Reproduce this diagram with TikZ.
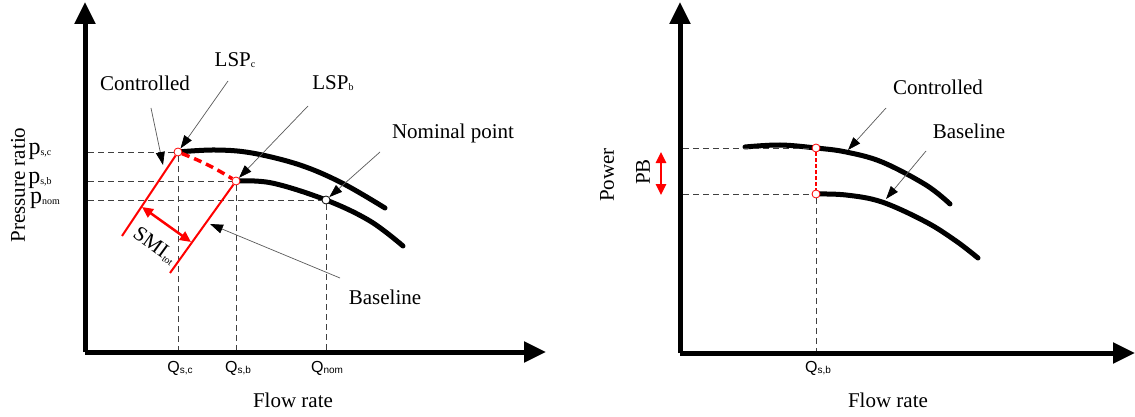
\documentclass[tikz,border=0pt]{standalone}
\usepackage{fontspec}
\setmainfont{Liberation Serif}
\newfontfamily\qfont{Liberation Sans}
\usetikzlibrary{arrows.meta,positioning}
\newcommand{\lowsub}[1]{\raisebox{-0.15ex}{\fontsize{10}{10}\selectfont #1}}
\tikzstyle{axis} = [line width=5pt, -{Triangle[length=22pt,width=20pt]}]
\tikzstyle{curve} = [line width=5pt, line cap=round]
\tikzstyle{guide} = [dash pattern=on 6pt off 4pt, line width=0.8pt, black!75]
\tikzstyle{surge} = [red, line width=2pt]
\tikzstyle{gap} = [red, line width=2.5pt, {Triangle[length=11pt,width=10pt]}-{Triangle[length=11pt,width=10pt]}]
\tikzstyle{pointer} = [black!65, line width=0.7pt, -{Triangle[length=13pt,width=9pt,color=black]}]
\tikzstyle{lsp} = [shape = circle, draw=red, fill=white, inner sep=0pt, minimum size=8pt, line width=0.8pt]
\tikzstyle{nompt} = [lsp, draw=black]
\tikzstyle{lbl} = [font=\fontsize{21}{24}\selectfont]
\tikzstyle{plbl} = [font=\fontsize{24}{26}\selectfont]
\tikzstyle{qlbl} = [font=\qfont\fontsize{16}{18}\selectfont]

\begin{document}
\begin{tikzpicture}[x=1pt, y=-1pt]
	\useasboundingbox (0,0) rectangle (1135,417);
	% left: pressure ratio
	\coordinate (O1) at (85,352);
	\draw[axis] (O1) -- (85,2);
	\draw[axis] (O1) -- (546,352);
	\node (yl1) at (18,185) [lbl, rotate=90] {Pressure ratio};
	\node (xl1) at (293,400) [lbl] {Flow rate};
	\draw[curve] plot[smooth, tension=0.6] coordinates {(178,152) (215,150) (252,153) (300,165) (342,183) (385,208)};
	\draw[curve] plot[smooth, tension=0.6] coordinates {(236,181) (272,183) (326,200) (370,221) (403,246)};
	\node (lspc) at (178,152) [lsp] {};
	\node (lspb) at (236,181) [lsp] {};
	\node (nom) at (326,200) [nompt] {};
	\coordinate (ysc) at (88,152);
	\coordinate (ysb) at (88,181);
	\coordinate (ynom) at (88,200);
	\coordinate (xsc) at (178,350);
	\coordinate (xsb) at (236,350);
	\coordinate (xnom) at (326,350);
	\draw[guide] (ysc) -- (lspc) -- (xsc);
	\draw[guide] (ysb) -- (lspb) -- (xsb);
	\draw[guide] (ynom) -- (nom) -- (xnom);
	\node (psc) at (40,151) [plbl] {p\lowsub{s,c}};
	\node (psb) at (40,180) [plbl] {p\lowsub{s,b}};
	\node (pnom) at (45,200) [plbl] {p\lowsub{nom}};
	\node (qsc) at (180,368) [qlbl] {Q\lowsub{s,c}};
	\node (qsb) at (238,368) [qlbl] {Q\lowsub{s,b}};
	\node (qnom) at (327,368) [qlbl] {Q\lowsub{nom}};
	% surge lines
	\coordinate (s1) at (122,236);
	\coordinate (s2) at (170,273);
	\draw[surge] (s1) -- (lspc);
	\draw[surge] (s2) -- (lspb);
	\draw[red, line width=3.5pt, dash pattern=on 8pt off 5pt] (lspc) to[bend left=5] (lspb);
	\coordinate (m1) at (142,207);
	\coordinate (m2) at (191,242);
	\draw[gap] (m1) -- (m2);
	\node (smi) at (155,246) [lbl, rotate=-36] {SMI\lowsub{tot}};
	% annotations
	\node (ctl1) at (145,83) [lbl] {Controlled};
	\node (lc) at (235,60) [lbl] {LSP\lowsub{c}};
	\node (lb) at (333,83) [lbl] {LSP\lowsub{b}};
	\node (np) at (453,133) [lbl] {Nominal point};
	\node (bl1) at (385,297) [lbl] {Baseline};
	\coordinate (a1) at (151,108);
	\coordinate (a2) at (228,81);
	\coordinate (a3) at (308,106);
	\coordinate (a4) at (380,152);
	\coordinate (a5) at (340,278);
	\draw[pointer] (a1) -- (163,165);
	\draw[pointer] (a2) -- (lspc);
	\draw[pointer] (a3) -- (lspb);
	\draw[pointer] (a4) -- (nom);
	\draw[pointer] (a5) -- (210,224);
	% right: power
	\coordinate (O2) at (680,353);
	\draw[axis] (O2) -- (680,2);
	\draw[axis] (O2) -- (1135,353);
	\node (yl2) at (607,175) [lbl, rotate=90] {Power};
	\node (pb) at (643,172) [lbl, rotate=90] {PB};
	\node (xl2) at (888,400) [lbl] {Flow rate};
	\draw[curve] plot[smooth, tension=0.6] coordinates {(745,147) (780,145) (816,148) (846,152) (882,162) (926,185) (950,204)};
	\draw[curve] plot[smooth, tension=0.6] coordinates {(816,194) (846,195) (882,202) (926,222) (956,241) (978,258)};
	\coordinate (ypc) at (683,148);
	\coordinate (ypb) at (683,194);
	\coordinate (xpb) at (816,351);
	\node (pc) at (816,148) [lsp] {};
	\node (pbs) at (816,194) [lsp] {};
	\draw[guide] (ypc) -- (pc);
	\draw[guide] (ypb) -- (pbs) -- (xpb);
	\draw[red, line width=2.5pt, dash pattern=on 4pt off 2pt] (pc) -- (pbs);
	\coordinate (g1) at (661,152);
	\coordinate (g2) at (661,195);
	\draw[gap] (g1) -- (g2);
	\node (qsb2) at (818,368) [qlbl] {Q\lowsub{s,b}};
	\node (ctl2) at (938,87) [lbl] {Controlled};
	\node (bl2) at (969,131) [lbl] {Baseline};
	\coordinate (a6) at (886,108);
	\coordinate (a7) at (926,151);
	\draw[pointer] (a6) -- (848,150);
	\draw[pointer] (a7) -- (886,199);
\end{tikzpicture}
\end{document}
